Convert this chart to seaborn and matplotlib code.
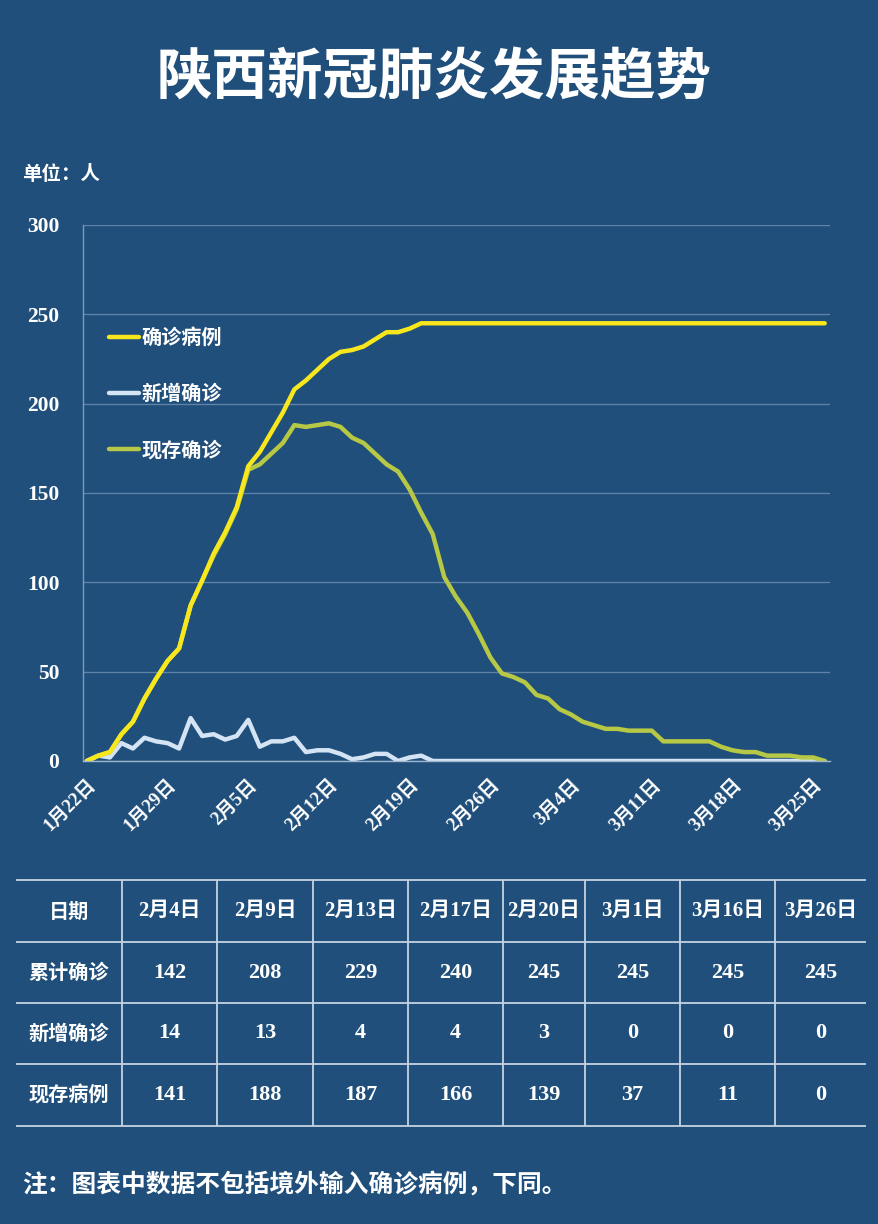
import matplotlib
matplotlib.use("Agg")
import matplotlib.pyplot as plt
import pandas as pd
import seaborn as sns

# daily series, 1/22 .. 3/26
dates = pd.date_range("2020-01-22", "2020-03-26", freq="D")
confirmed = [0, 3, 5, 15, 22, 35, 46, 56, 63, 87,
             101, 116, 128, 142, 165, 173, 184, 195, 208, 213,
             219, 225, 229, 230, 232, 236, 240, 240, 242, 245,
             245, 245, 245, 245, 245, 245, 245, 245, 245,
             245, 245, 245, 245, 245, 245, 245, 245, 245, 245,
             245, 245, 245, 245, 245, 245, 245, 245, 245, 245,
             245, 245, 245, 245, 245, 245]
new_cases = [0, 3, 2, 10, 7, 13, 11, 10, 7, 24,
             14, 15, 12, 14, 23, 8, 11, 11, 13, 5,
             6, 6, 4, 1, 2, 4, 4, 0, 2, 3,
             0, 0, 0, 0, 0, 0, 0, 0, 0,
             0, 0, 0, 0, 0, 0, 0, 0, 0, 0,
             0, 0, 0, 0, 0, 0, 0, 0, 0, 0,
             0, 0, 0, 0, 0, 0]
current = [0, 3, 5, 15, 22, 35, 46, 56, 63, 87,
           101, 115, 127, 141, 163, 166, 172, 178, 188, 187,
           188, 189, 187, 181, 178, 172, 166, 162, 152, 139,
           127, 103, 92, 83, 71, 58, 49, 47, 44,
           37, 35, 29, 26, 22, 20, 18, 18, 17, 17,
           17, 11, 11, 11, 11, 11, 8, 6, 5, 5,
           3, 3, 3, 2, 2, 0]

# summary table
table_cols = ["2月4日", "2月9日", "2月13日", "2月17日", "2月20日", "3月1日", "3月16日", "3月26日"]
table_rows = ["累计确诊", "新增确诊", "现存病例"]
table_cum = [142, 208, 229, 240, 245, 245, 245, 245]
table_new = [14, 13, 4, 4, 3, 0, 0, 0]
table_cur = [141, 188, 187, 166, 139, 37, 11, 0]

BG = "#1f4f7a"
YELLOW = "#f8e71c"
PALE = "#d4e4f4"
OLIVE = "#b6c845"
GRID = "#5f82a8"

sns.set_style("dark", {"axes.facecolor": BG, "figure.facecolor": BG})
plt.rcParams["font.family"] = ["Noto Sans CJK SC", "DejaVu Sans"]
SERIF = ["Liberation Serif", "Noto Sans CJK SC"]
CJK = ["Noto Sans CJK SC", "DejaVu Sans"]

fig = plt.figure(figsize=(8.79, 12.24), dpi=100)
fig.patch.set_facecolor(BG)

ax = fig.add_axes([83 / 879, 1 - 761 / 1224, 747 / 879, 536 / 1224])
ax.set_facecolor(BG)

sns.lineplot(x=dates, y=new_cases, ax=ax, color=PALE, linewidth=3.2, label="新增确诊")
sns.lineplot(x=dates, y=current, ax=ax, color=OLIVE, linewidth=3.2, label="现存确诊")
sns.lineplot(x=dates, y=confirmed, ax=ax, color=YELLOW, linewidth=3.2, label="确诊病例")

ax.set_xlim(dates[0] - pd.Timedelta(hours=8), dates[-1] + pd.Timedelta(hours=11))
ax.set_ylim(0, 300)
ax.set_xlabel("")
ax.set_ylabel("")

ticks = dates[::7]
ax.set_xticks(ticks)
ax.set_xticklabels([f"{d.month}月{d.day}日" for d in ticks], rotation=45, ha="right",
                   rotation_mode="anchor", family=SERIF, weight="bold", fontsize=13.5, color="white")
ax.set_yticks(range(0, 301, 50))
ax.set_yticklabels([str(v) for v in range(0, 301, 50)], family=SERIF, weight="bold",
                   fontsize=15.5, color="white")
ax.tick_params(axis="y", length=0, pad=17)
ax.tick_params(axis="x", length=5, width=1, color="#9fb6cc", pad=6)

ax.yaxis.grid(True, color=GRID, linewidth=1)
ax.xaxis.grid(False)
for side in ["top", "right"]:
    ax.spines[side].set_visible(False)
ax.spines["left"].set_color("#7d9bbb")
ax.spines["left"].set_linewidth(1)
ax.spines["bottom"].set_color("#9fb6cc")
ax.spines["bottom"].set_linewidth(1)

h, l = ax.get_legend_handles_labels()
leg = ax.legend([h[2], h[0], h[1]], [l[2], l[0], l[1]], loc="upper left",
                bbox_to_anchor=(0.035, 0.81), frameon=False, handlelength=1.5,
                handletextpad=0.1, labelspacing=1.75, borderaxespad=0, borderpad=0,
                prop={"family": CJK, "weight": "bold", "size": 14.5})
for t in leg.get_texts():
    t.set_color("white")

# overlay in pixel coordinates for title, notes and table
ov = fig.add_axes([0, 0, 1, 1])
ov.set_xlim(0, 879)
ov.set_ylim(1224, 0)
ov.axis("off")
ov.patch.set_alpha(0)

ov.text(434, 78, "陕西新冠肺炎发展趋势", ha="center", va="center", color="white",
        fontsize=40, weight="bold", family=CJK)
ov.text(22, 175, "单位：人", ha="left", va="center", color="white",
        fontsize=14, weight="bold", family=CJK)
ov.text(22, 1184, "注：图表中数据不包括境外输入确诊病例，下同。", ha="left", va="center",
        color="white", fontsize=17.8, weight="bold", family=CJK)

col_edges = [16, 122, 217, 313, 408, 503, 585, 680, 775, 866]
row_edges = [880, 942, 1003, 1064, 1126]
line_c = "#c5d3e2"
ov.hlines(row_edges, col_edges[0], col_edges[-1], color=line_c, linewidth=1.3)
ov.vlines(col_edges[1:-1], row_edges[0], row_edges[-1], color=line_c, linewidth=1.3)

col_mid = [(a + b) / 2 for a, b in zip(col_edges[:-1], col_edges[1:])]
row_mid = [(a + b) / 2 for a, b in zip(row_edges[:-1], row_edges[1:])]

ov.text(col_mid[0], row_mid[0], "日期", ha="center", va="center", color="white",
        fontsize=14.5, weight="bold", family=CJK)
for cx, lab in zip(col_mid[1:], table_cols):
    ov.text(cx, row_mid[0], lab, ha="center", va="center", color="white",
            fontsize=15, weight="bold", family=SERIF)
for ry, name, vals in zip(row_mid[1:], table_rows, [table_cum, table_new, table_cur]):
    ov.text(col_mid[0], ry, name, ha="center", va="center", color="white",
            fontsize=14.5, weight="bold", family=CJK)
    for cx, v in zip(col_mid[1:], vals):
        ov.text(cx, ry, str(v), ha="center", va="center", color="white",
                fontsize=16, weight="bold", family=SERIF)

fig.savefig("out.png", dpi=100, facecolor=BG)
